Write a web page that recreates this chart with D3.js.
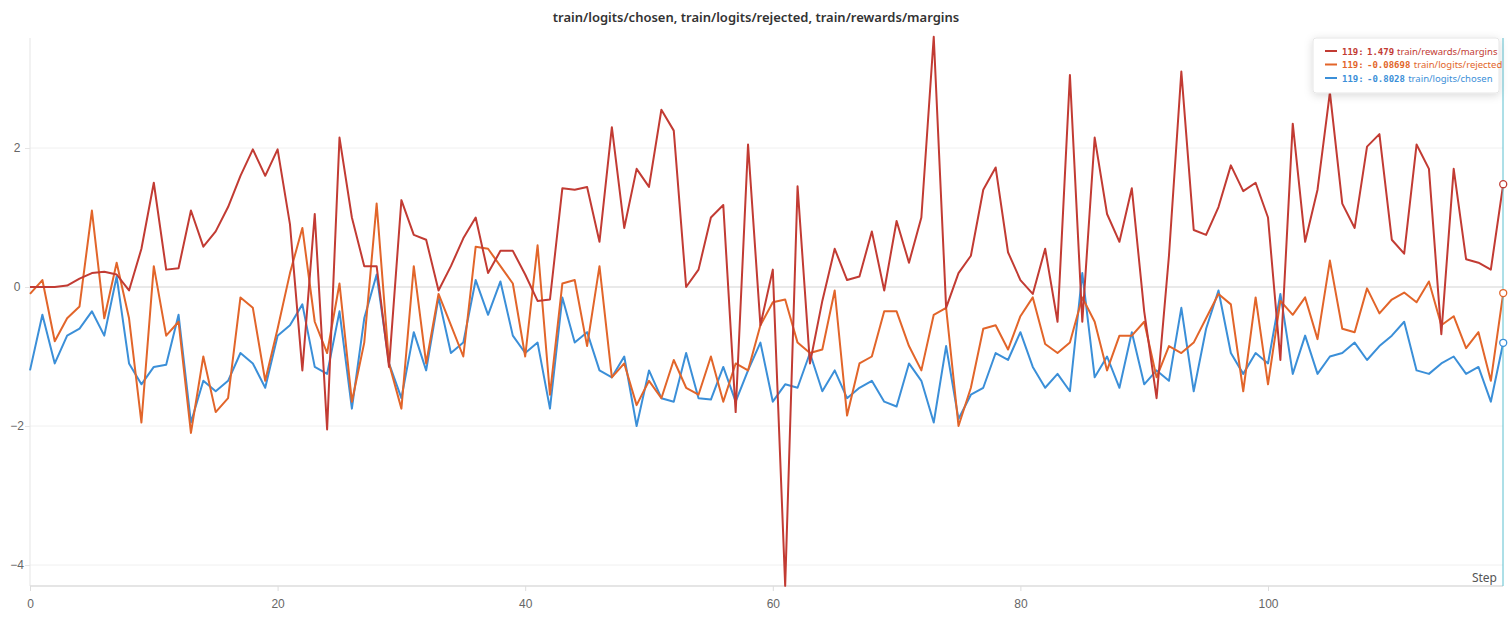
<!DOCTYPE html>
<html>
<head>
<meta charset="utf-8">
<script src="https://cdn.jsdelivr.net/npm/d3@7"></script>
<style>
  body { margin: 0; background: #fff; font-family: "Source Sans Pro", "Noto Sans", sans-serif; }
  svg { display: block; }
</style>
</head>
<body>
<svg id="chart" width="1512" height="626"></svg>
<script>
(function () {
  var margins = [0, 0, 0, 0.02, 0.12, 0.2, 0.22, 0.18, -0.05, 0.55,
    1.5, 0.25, 0.27, 1.1, 0.58, 0.8, 1.15, 1.6, 1.98, 1.6,
    1.98, 0.9, -1.2, 1.05, -2.05, 2.15, 1.0, 0.3, 0.3, -1.15,
    1.25, 0.75, 0.68, -0.05, 0.3, 0.7, 1.0, 0.2, 0.52, 0.52,
    0.18, -0.2, -0.18, 1.42, 1.4, 1.44, 0.65, 2.3, 0.85, 1.7,
    1.44, 2.55, 2.25, 0.0, 0.25, 1.0, 1.18, -1.8, 2.05, -0.55,
    0.25, -4.3, 1.45, -1.1, -0.2, 0.55, 0.1, 0.15, 0.8, -0.05,
    0.95, 0.35, 1.0, 3.6, -0.3, 0.2, 0.45, 1.4, 1.72, 0.5,
    0.1, -0.1, 0.55, -0.5, 3.05, -0.5, 2.15, 1.05, 0.65, 1.42,
    -0.35, -1.6, 0.45, 3.1, 0.82, 0.75, 1.15, 1.75, 1.38, 1.5,
    1.0, -1.05, 2.35, 0.65, 1.4, 2.8, 1.2, 0.85, 2.02, 2.2,
    0.68, 0.48, 2.05, 1.7, -0.68, 1.7, 0.4, 0.35, 0.25, 1.479];
  var rejected = [-0.1, 0.1, -0.78, -0.45, -0.28, 1.1, -0.45, 0.35, -0.45, -1.95,
    0.3, -0.7, -0.5, -2.1, -1.0, -1.8, -1.6, -0.15, -0.3, -1.35,
    -0.6, 0.2, 0.85, -0.5, -0.95, 0.05, -1.65, -0.8, 1.2, -1.1,
    -1.75, 0.3, -1.1, -0.1, -0.55, -1.0, 0.58, 0.55, 0.3, 0.05,
    -1.0, 0.6, -1.55, 0.05, 0.1, -0.85, 0.3, -1.3, -1.1, -1.7,
    -1.35, -1.6, -1.05, -1.45, -1.55, -1.0, -1.65, -1.1, -1.2, -0.55,
    -0.22, -0.18, -0.8, -0.95, -0.9, -0.05, -1.85, -1.1, -1.0, -0.35,
    -0.35, -0.85, -1.2, -0.4, -0.3, -2.0, -1.45, -0.6, -0.55, -0.9,
    -0.42, -0.15, -0.82, -0.95, -0.8, -0.15, -0.5, -1.2, -0.7, -0.7,
    -0.5, -1.3, -0.85, -0.95, -0.8, -0.45, -0.1, -0.25, -1.5, -0.15,
    -1.4, -0.2, -0.4, -0.15, -0.75, 0.38, -0.6, -0.65, -0.02, -0.38,
    -0.18, -0.08, -0.22, 0.08, -0.55, -0.42, -0.88, -0.65, -1.35, -0.087];
  var chosen = [-1.2, -0.4, -1.1, -0.7, -0.6, -0.35, -0.7, 0.15, -1.1, -1.4,
    -1.15, -1.12, -0.4, -1.95, -1.35, -1.5, -1.35, -0.95, -1.1, -1.45,
    -0.7, -0.55, -0.25, -1.15, -1.25, -0.35, -1.75, -0.45, 0.18, -1.1,
    -1.6, -0.65, -1.2, -0.15, -0.95, -0.8, 0.1, -0.4, 0.08, -0.7,
    -0.95, -0.8, -1.75, -0.15, -0.8, -0.65, -1.2, -1.3, -1.0, -2.0,
    -1.2, -1.6, -1.65, -0.95, -1.6, -1.62, -1.15, -1.65, -1.2, -0.8,
    -1.65, -1.4, -1.45, -0.95, -1.5, -1.2, -1.6, -1.45, -1.35, -1.65,
    -1.72, -1.1, -1.35, -1.95, -0.85, -1.9, -1.55, -1.45, -0.95, -1.05,
    -0.65, -1.15, -1.45, -1.25, -1.5, 0.2, -1.3, -1.0, -1.45, -0.65,
    -1.4, -1.2, -1.35, -0.3, -1.5, -0.6, -0.05, -0.95, -1.25, -0.95,
    -1.1, -0.1, -1.25, -0.7, -1.25, -1.0, -0.95, -0.8, -1.05, -0.85,
    -0.7, -0.5, -1.2, -1.25, -1.1, -1.0, -1.25, -1.15, -1.65, -0.803];
  var X_TICKS = [0, 20, 40, 60, 80, 100];
  var Y_TICKS = [-4, -2, 0, 2];

  var series = [
    { name: 'train/logits/chosen', label: '-0.8028', values: chosen, color: '#3b8fd8' },
    { name: 'train/logits/rejected', label: '-0.08698', values: rejected, color: '#e2652a' },
    { name: 'train/rewards/margins', label: '1.479', values: margins, color: '#c23b33' }
  ];

  var svg = d3.select('#chart');
  var x = d3.scaleLinear().domain([0, 100]).range([30, 1268]);
  var y = d3.scaleLinear().domain([0, 2]).range([287, 148]);
  var top = 38, bottom = 586, right = 1503;

  svg.append('text')
      .attr('x', 756).attr('y', 22)
      .attr('text-anchor', 'middle')
      .attr('font-size', 13).attr('font-weight', 600).attr('fill', '#333')
      .text('train/logits/chosen, train/logits/rejected, train/rewards/margins');

  // grid
  svg.append('g').selectAll('line')
      .data(Y_TICKS)
    .enter().append('line')
      .attr('x1', 30).attr('x2', right)
      .attr('y1', function (d) { return y(d); }).attr('y2', function (d) { return y(d); })
      .attr('stroke', function (d) { return d === 0 ? '#e2e2e2' : '#f0f0f0'; })
      .attr('stroke-width', function (d) { return d === 0 ? 1.5 : 1; });

  var yAxis = svg.append('g')
      .attr('transform', 'translate(30,0)')
      .call(d3.axisLeft(y).tickValues(Y_TICKS).tickSize(5).tickFormat(d3.format('d')));
  yAxis.select('.domain').remove();
  yAxis.selectAll('line').attr('stroke', '#e5e5e5');
  yAxis.selectAll('text').attr('fill', '#666').attr('font-size', 12).attr('x', -13).attr('text-anchor', 'middle');
  svg.append('line').attr('x1', 30).attr('x2', 30).attr('y1', top).attr('y2', bottom)
      .attr('stroke', '#e5e5e5');

  var xAxis = svg.append('g')
      .attr('transform', 'translate(0,' + bottom + ')')
      .call(d3.axisBottom(x).tickValues(X_TICKS).tickSize(5));
  xAxis.select('.domain').attr('stroke', '#ddd').attr('stroke-width', 1.5)
      .attr('d', 'M30,0H' + right);
  xAxis.selectAll('line').attr('stroke', '#ddd');
  xAxis.selectAll('text').attr('fill', '#666').attr('font-size', 12).attr('dy', '1.2em');

  svg.append('text')
      .attr('x', 1497).attr('y', 582).attr('text-anchor', 'end')
      .attr('font-size', 12).attr('fill', '#555').text('Step');

  var line = d3.line()
      .x(function (d, i) { return x(i); })
      .y(function (d) { return y(d); });

  svg.append('g').selectAll('path')
      .data(series)
    .enter().append('path')
      .attr('d', function (d) { return line(d.values); })
      .attr('fill', 'none')
      .attr('stroke', function (d) { return d.color; })
      .attr('stroke-width', 2)
      .attr('stroke-linejoin', 'round');

  svg.append('line').attr('x1', right).attr('x2', right).attr('y1', top).attr('y2', bottom)
      .attr('stroke', '#5bc0d0').attr('stroke-width', 1);

  svg.append('g').selectAll('circle')
      .data(series)
    .enter().append('circle')
      .attr('cx', x(119))
      .attr('cy', function (d) { return y(d.values[119]); })
      .attr('r', 3.5)
      .attr('fill', '#fff')
      .attr('stroke', function (d) { return d.color; })
      .attr('stroke-width', 1.3);

  // legend
  var defs = svg.append('defs');
  var f = defs.append('filter').attr('id', 'sh').attr('x', '-20%').attr('y', '-30%').attr('width', '140%').attr('height', '170%');
  f.append('feDropShadow').attr('dx', 0).attr('dy', 2).attr('stdDeviation', 4).attr('flood-opacity', 0.15);
  var lg = svg.append('g').attr('transform', 'translate(1313,38)');
  lg.append('rect').attr('width', 186).attr('height', 55).attr('rx', 3)
      .attr('fill', '#fff').attr('stroke', '#e6e6e6').attr('filter', 'url(#sh)');
  var rows = lg.selectAll('.row')
      .data(series.slice().reverse())
    .enter().append('g')
      .attr('transform', function (d, i) { return 'translate(0,' + (13 + i * 13.5) + ')'; });
  rows.append('line').attr('x1', 12).attr('x2', 24)
      .attr('stroke', function (d) { return d.color; }).attr('stroke-width', 2);
  rows.append('text').attr('x', 29).attr('y', 3.5)
      .attr('font-size', 9).attr('fill', function (d) { return d.color; })
      .text(function (d) { return '119:'; })
      .style('font-family', 'DejaVu Sans Mono, monospace').attr('font-weight', 'bold');
  rows.append('text').attr('x', 54).attr('y', 3.5)
      .attr('font-size', 9).attr('font-weight', 'bold').attr('fill', function (d) { return d.color; })
      .style('font-family', 'DejaVu Sans Mono, monospace')
      .text(function (d) { return d.label; });
  rows.append('text')
      .attr('x', function (d) { return 54 + d.label.length * 5.6 + 2; }).attr('y', 3.5)
      .attr('font-size', 9.5).attr('fill', function (d) { return d.color; })
      .text(function (d) { return d.name; });
}());
</script>
</body>
</html>
